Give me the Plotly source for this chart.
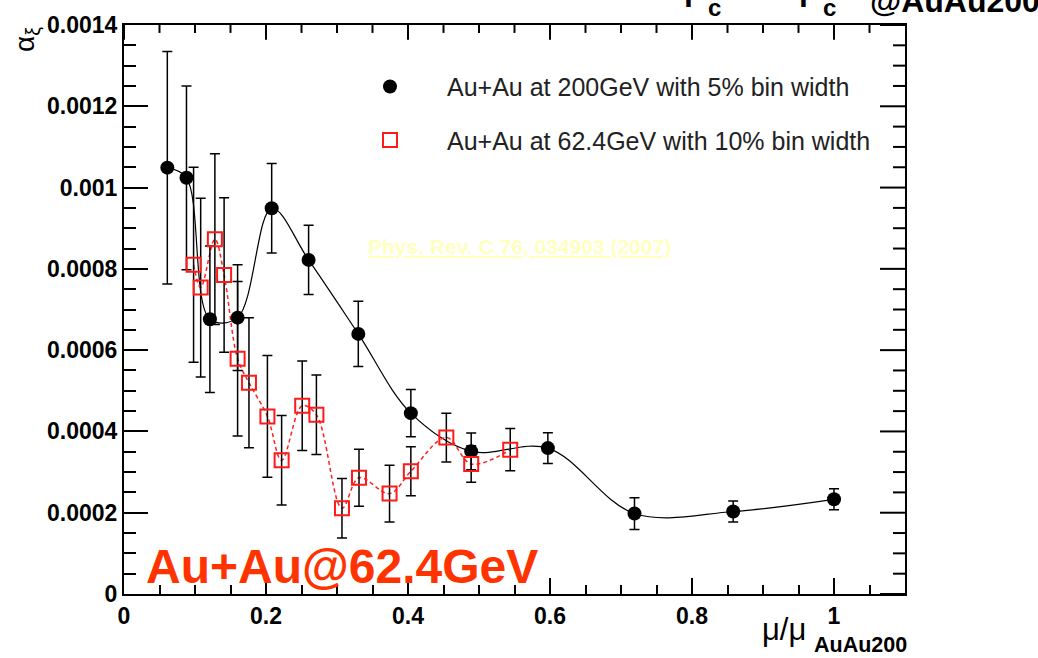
import plotly.graph_objects as go

# Au+Au 200 GeV, 5% bins
x200 = [0.061, 0.088, 0.121, 0.160, 0.208, 0.260, 0.330, 0.404, 0.489, 0.597, 0.719, 0.858, 1.000]
y200 = [0.001049, 0.001024, 0.000676, 0.000680, 0.000949, 0.000822, 0.000640, 0.000445, 0.000351, 0.000359, 0.000198, 0.000203, 0.000233]
e200 = [0.000286, 0.000226, 0.000180, 0.000130, 0.000110, 0.000085, 0.000080, 0.000058, 0.000045, 0.000038, 0.000039, 0.000026, 0.000026]

# Au+Au 62.4 GeV, 10% bins
x62 = [0.098, 0.108, 0.128, 0.141, 0.160, 0.176, 0.202, 0.222, 0.251, 0.271, 0.307, 0.331, 0.374, 0.404, 0.454, 0.489, 0.544]
y62 = [0.000810, 0.000754, 0.000873, 0.000785, 0.000579, 0.000520, 0.000437, 0.000329, 0.000463, 0.000441, 0.000211, 0.000286, 0.000247, 0.000302, 0.000385, 0.000320, 0.000355]
e62 = [0.000240, 0.000220, 0.000210, 0.000190, 0.000190, 0.000160, 0.000150, 0.000110, 0.000110, 0.000098, 0.000073, 0.000070, 0.000070, 0.000060, 0.000060, 0.000045, 0.000052]

xticks = [0, 0.2, 0.4, 0.6, 0.8, 1.0]
xticklabels = ["0", "0.2", "0.4", "0.6", "0.8", "1"]
yticks = [0, 0.0002, 0.0004, 0.0006, 0.0008, 0.001, 0.0012, 0.0014]
yticklabels = ["0", "0.0002", "0.0004", "0.0006", "0.0008", "0.001", "0.0012", "0.0014"]

FONT = "Liberation Sans, Arial, sans-serif"
XR = [0, 1.1]
YR = [0, 0.0014]
xminor = [round(i * 0.05, 4) for i in range(1, 22) if i % 4]
yminor = [round(i * 0.00005, 7) for i in range(1, 28) if i % 4]

fig = go.Figure()
fig.add_trace(go.Scatter(x=x200, y=y200, mode="lines", line=dict(color="black", width=1.2, shape="spline", smoothing=1.0),
                         showlegend=False, hoverinfo="skip"))
fig.add_trace(go.Scatter(x=x62, y=y62, mode="lines", line=dict(color="#ff2020", width=1.5, dash="4px,3px", shape="spline", smoothing=1.0),
                         showlegend=False, hoverinfo="skip"))
fig.add_trace(go.Scatter(x=x200, y=y200, mode="markers", name="Au+Au at 200GeV with 5% bin width", legendgroup="a",
                         marker=dict(symbol="circle", size=14, color="black"),
                         error_y=dict(type="data", array=e200, color="black", thickness=1.5, width=5)))
fig.add_trace(go.Scatter(x=x62, y=y62, mode="markers", name="Au+Au at 62.4GeV with 10% bin width", legendgroup="b",
                         marker=dict(symbol="square-open", size=14, color="#ff1a1a", line=dict(width=2, color="#ff1a1a")),
                         error_y=dict(type="data", array=e62, color="black", thickness=1.5, width=5)))

common = dict(showgrid=False, zeroline=False, showline=True, linecolor="black", linewidth=2,
              ticks="inside", tickwidth=2, tickcolor="black")

fig.update_layout(
    width=1038, height=658,
    margin=dict(l=124, r=133, t=19, b=64),
    paper_bgcolor="white", plot_bgcolor="rgba(0,0,0,0)",
    font=dict(family=FONT, color="black"),
    legend=dict(x=0.2676, y=0.932, xanchor="left", yanchor="top", bgcolor="rgba(0,0,0,0)",
                font=dict(size=25, family=FONT, color="#222"), tracegroupgap=18, itemwidth=104,
                traceorder="grouped"),
    xaxis=dict(range=XR, **common, ticklen=16, mirror=True,
               tickvals=xticks, ticktext=["<b>%s</b>" % t for t in xticklabels],
               tickfont=dict(size=23, family=FONT, color="black"),
               minor=dict(dtick=0.05, ticks="inside", ticklen=9, tickwidth=2, tickcolor="black", showgrid=False)),
    yaxis=dict(range=YR, **common, ticklen=24, mirror=True,
               tickvals=yticks, ticktext=["<b>%s</b>" % t for t in yticklabels],
               tickfont=dict(size=23, family=FONT, color="black"),
               minor=dict(dtick=0.00005, ticks="inside", ticklen=12, tickwidth=2, tickcolor="black", showgrid=False)),
)

# tick marks along the top and right frame edges (ROOT style), at the axis tick positions
for v in xticks + xminor:
    ln = 15 if v in xticks else 8
    fig.add_shape(type="line", xref="x", yref="paper", x0=v, x1=v, y0=1.0, y1=1.0 - ln / 575.0,
                  line=dict(color="black", width=2), layer="above")
for v in yticks + yminor:
    ln = 25 if v in yticks else 12
    fig.add_shape(type="line", xref="paper", yref="y", x0=1.0, x1=1.0 - ln / 781.0, y0=v, y1=v,
                  line=dict(color="black", width=2), layer="above")

fig.add_annotation(text="α<sub>ξ</sub>", xref="paper", yref="paper", x=-0.124, y=0.974, textangle=-90,
                   showarrow=False, font=dict(size=28, family=FONT, color="black"), xanchor="center", yanchor="middle")
fig.add_annotation(text="μ/μ", xref="paper", yref="paper", x=0.8758, y=-0.0626,
                   xanchor="right", yanchor="middle", showarrow=False, font=dict(size=31, family=FONT, color="black"))
fig.add_annotation(text="<b>AuAu200</b>", xref="paper", yref="paper", x=0.881, y=-0.0904,
                   xanchor="left", yanchor="middle", showarrow=False, font=dict(size=21.5, family=FONT, color="black"))
fig.add_annotation(text="<b>Au+Au@62.4GeV</b>", xref="paper", yref="paper", x=0.0256, y=-0.0015,
                   xanchor="left", yanchor="bottom", showarrow=False, font=dict(size=48, family=FONT, color="#ff3300"))
fig.add_annotation(text="<b><u>Phys. Rev. C 76, 034903 (2007)</u></b>", xref="paper", yref="paper", x=0.5058, y=0.6105,
                   xanchor="center", yanchor="middle", showarrow=False, font=dict(size=21, family=FONT, color="#ffffc0"))
# partially visible title at very top (cut off by the page edge, as in the original)
for left in (682, 797):
    fig.add_annotation(text="<b>μ</b>", xref="paper", yref="paper", x=(left - 124) / 781, y=1.0,
                       xanchor="left", yanchor="bottom", yshift=16, showarrow=False,
                       font=dict(size=32, family=FONT, color="black"))
    fig.add_annotation(text="<b>c</b>", xref="paper", yref="paper", x=(left + 24 - 124) / 781, y=1.0,
                       xanchor="left", yanchor="bottom", yshift=2, showarrow=False,
                       font=dict(size=24, family=FONT, color="black"))
fig.add_annotation(text="<b>@AuAu200</b>", xref="paper", yref="paper", x=(868 - 124) / 781, y=1.0,
                   xanchor="left", yanchor="bottom", yshift=4, showarrow=False, font=dict(size=32, family=FONT, color="black"))

fig.write_html("out.html")
